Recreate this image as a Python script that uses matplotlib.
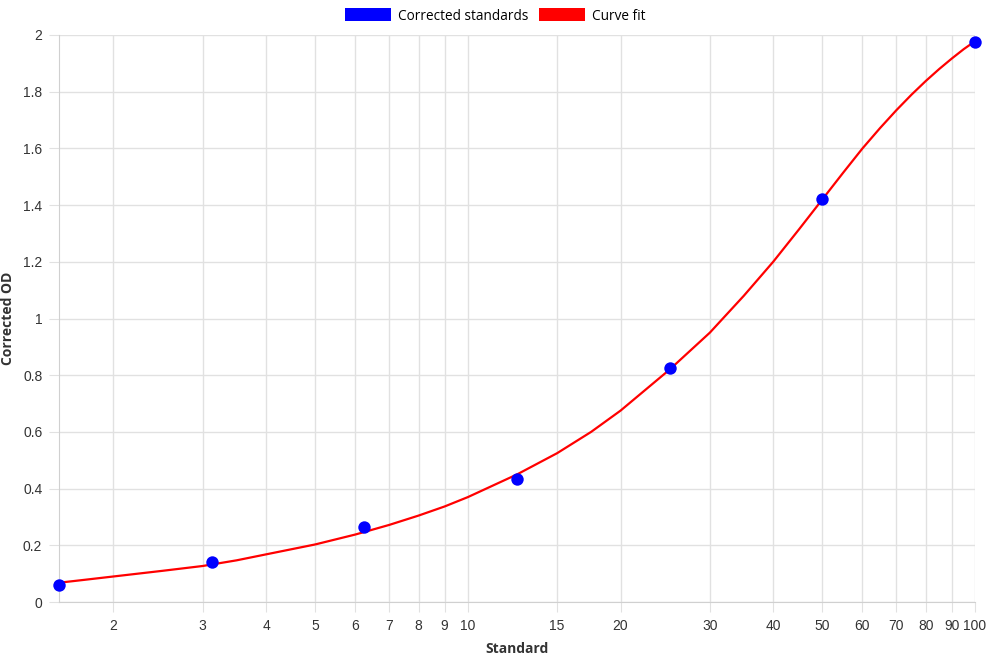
import matplotlib
matplotlib.use("Agg")
import matplotlib.pyplot as plt
from matplotlib.patches import Patch

# standards (measured points)
std_x = [1.5625, 3.125, 6.25, 12.5, 25, 50, 100]
std_od = [0.06, 0.14, 0.265, 0.435, 0.825, 1.42, 1.975]

# curve fit
fit_x = [1.5625, 1.75, 2, 2.5, 3, 3.5, 4, 5, 6, 7, 8, 9, 10, 12.5, 15, 17.5, 20, 25,
         30, 35, 40, 45, 50, 55, 60, 65, 70, 75, 80, 85, 90, 95, 100]
fit_od = [0.068, 0.078, 0.09, 0.11, 0.127, 0.147, 0.168, 0.203, 0.238, 0.272, 0.305,
          0.337, 0.37, 0.45, 0.525, 0.6, 0.675, 0.82, 0.95, 1.08, 1.2, 1.315, 1.42,
          1.515, 1.6, 1.672, 1.735, 1.79, 1.838, 1.88, 1.917, 1.95, 1.978]

x_ticks = [2, 3, 4, 5, 6, 7, 8, 9, 10, 15, 20, 30, 40, 50, 60, 70, 80, 90, 100]
y_ticks = [0, 0.2, 0.4, 0.6, 0.8, 1, 1.2, 1.4, 1.6, 1.8, 2]

grid_c = "#e1e1e1"
tick_font = "Liberation Sans"
title_font = "Open Sans"

fig = plt.figure(figsize=(9.9, 6.6), dpi=100)
ax = fig.add_axes([59/990, 58/660, 916/990, 567/660])

ax.plot(fit_x, fit_od, color="#ff0000", lw=1.6, zorder=3)
ax.scatter(std_x, std_od, s=80, color="#0000ff", zorder=4, linewidths=0, clip_on=False)

ax.set_xscale("log")
ax.set_xlim(1.5625, 100)
ax.set_ylim(0, 2)
ax.set_xticks(x_ticks)
ax.set_xticklabels([str(v) for v in x_ticks])
ax.xaxis.set_minor_locator(matplotlib.ticker.NullLocator())
ax.set_yticks(y_ticks)
ax.set_yticklabels(["0", "0.2", "0.4", "0.6", "0.8", "1", "1.2", "1.4", "1.6", "1.8", "2"])

ax.grid(True, color=grid_c, lw=1)
ax.set_axisbelow(True)
for s in ["top", "right"]:
    ax.spines[s].set_visible(False)
for s in ["left", "bottom"]:
    ax.spines[s].set_color("#d0d0d0")
ax.tick_params(length=7, color=grid_c, labelsize=10, labelcolor="#333333", pad=5)
for lab in ax.get_xticklabels() + ax.get_yticklabels():
    lab.set_fontfamily(tick_font)

ax.set_xlabel("Standard", fontsize=10, fontweight="bold", family=title_font,
              color="#333333", labelpad=7)
ax.set_ylabel("Corrected OD", fontsize=10, fontweight="bold", family=title_font,
              color="#333333", labelpad=6)

handles = [Patch(facecolor="#0000ff", label="Corrected standards"),
           Patch(facecolor="#ff0000", label="Curve fit")]
fig.legend(handles=handles, loc="center", bbox_to_anchor=(0.5, 1 - 16/660), ncol=2,
           frameon=False, handlelength=3.4, handleheight=1.1, handletextpad=0.5,
           columnspacing=0.8, prop={"family": title_font, "size": 9.8})

fig.savefig("out.png", dpi=100)
